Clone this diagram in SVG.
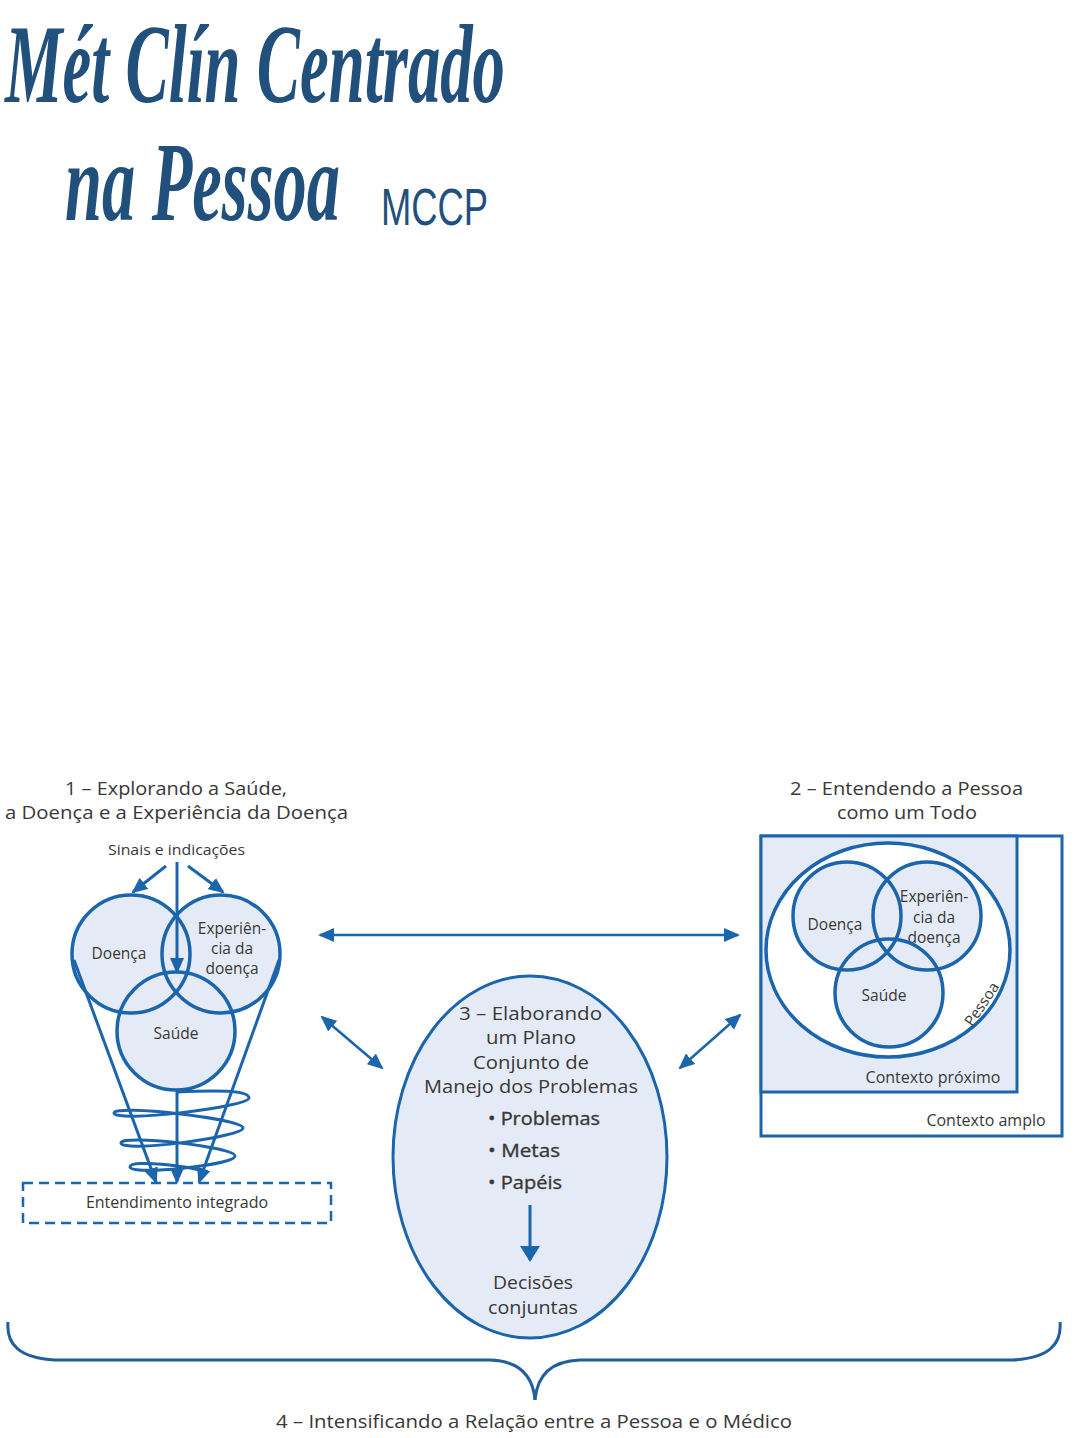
<svg xmlns="http://www.w3.org/2000/svg" width="1079" height="1438" viewBox="0 0 1079 1438">
<style>
.t{font-family:"Open Sans","Noto Sans","Liberation Sans",sans-serif;fill:#383838}
.h{font-size:17.5px}
.s{font-size:15.5px}
.c{font-size:17.5px}
.b{stroke:#383838;stroke-width:0.35}
.st{fill:none;stroke:#1b65ac;stroke-width:3.5}
.fl{fill:#e5ebf6;stroke:none}
.ln{fill:none;stroke:#1b65ac;stroke-width:3}
.dl{fill:none;stroke:#1b65ac;stroke-width:2.6}
.title{font-family:"Liberation Serif","DejaVu Serif",serif;font-weight:bold;font-style:italic;fill:#22507c}
</style>
<defs>
<marker id="ah" viewBox="0 0 16 14" refX="14" refY="7" markerWidth="16" markerHeight="14" markerUnits="userSpaceOnUse" orient="auto-start-reverse">
<path d="M0,0 L16,7 L0,14 z" fill="#1b65ac"/>
</marker>
<marker id="ah2" viewBox="0 0 16 20" refX="14" refY="10" markerWidth="16" markerHeight="20" markerUnits="userSpaceOnUse" orient="auto">
<path d="M0,0 L16,10 L0,20 z" fill="#1b65ac"/>
</marker>
</defs>
<rect width="1079" height="1438" fill="#ffffff"/>

<g id="title">
<text class="title" transform="translate(5,102) scale(1,1.7)" x="0" y="0" font-size="66" textLength="500" lengthAdjust="spacingAndGlyphs">Mét Clín Centrado</text>
<text class="title" transform="translate(65,220) scale(1,1.7)" x="0" y="0" font-size="66" textLength="275" lengthAdjust="spacingAndGlyphs">na Pessoa</text>
<text x="381" y="225" font-family="Liberation Sans,Arial,sans-serif" font-size="52" fill="#22507c" textLength="107" lengthAdjust="spacingAndGlyphs">MCCP</text>
</g>

<!-- Component 1 -->
<g id="comp1">
<text class="t h" x="65" y="795" textLength="222" lengthAdjust="spacingAndGlyphs">1 – Explorando a Saúde,</text>
<text class="t h" x="5" y="819" textLength="343" lengthAdjust="spacingAndGlyphs">a Doença e a Experiência da Doença</text>
<text class="t" x="108" y="855" font-size="15" textLength="137" lengthAdjust="spacingAndGlyphs">Sinais e indicações</text>
<g id="c1-fills">
<circle class="fl" cx="131" cy="954" r="59"/>
<circle class="fl" cx="221" cy="954" r="59"/>
<circle class="fl" cx="176" cy="1031" r="59"/>
</g>
<g id="c1-doenca">
<circle class="st" cx="131" cy="954" r="59"/>
<text class="t s" x="119" y="959" text-anchor="middle">Doença</text>
</g>
<g id="c1-experiencia">
<circle class="st" cx="221" cy="954" r="59"/>
<text class="t s" x="232" y="934" text-anchor="middle">Experiên-</text>
<text class="t s" x="232" y="954" text-anchor="middle">cia da</text>
<text class="t s" x="232" y="974" text-anchor="middle">doença</text>
</g>
<g id="c1-saude">
<circle class="st" cx="176" cy="1031" r="59"/>
<text class="t s" x="176" y="1039" text-anchor="middle">Saúde</text>
</g>
<g id="c1-spiral">
<path class="ln" stroke-width="2.6" d="M177,1092 C215,1090 249,1090 249,1098 C249,1107 114,1123 114,1113 C114,1104 243,1119 243,1128 C243,1137 121,1153 121,1143 C121,1134 235,1147 235,1156 C235,1165 130,1176 130,1167 C130,1159 190,1166 205,1172"/>
</g>
<g id="c1-integrado">
<rect x="23" y="1183" width="308" height="40" fill="none" stroke="#1b65ac" stroke-width="2.5" stroke-dasharray="10 6"/>
<text class="t" font-size="16" x="177" y="1208" text-anchor="middle">Entendimento integrado</text>
</g>
</g>

<!-- Component 2 -->
<g id="comp2">
<text class="t h" x="790" y="795" textLength="233" lengthAdjust="spacingAndGlyphs">2 – Entendendo a Pessoa</text>
<text class="t h" x="837" y="819" textLength="140" lengthAdjust="spacingAndGlyphs">como um Todo</text>
<g id="c2-amplo">
<rect x="761" y="836" width="301" height="300" fill="#ffffff" stroke="#1b65ac" stroke-width="3"/>
<text class="t" font-size="16" x="986" y="1126" text-anchor="middle">Contexto amplo</text>
</g>
<g id="c2-proximo">
<rect x="761" y="836" width="256" height="256" fill="#e5ebf6" stroke="#1b65ac" stroke-width="3"/>
<text class="t" font-size="16" x="933" y="1083" text-anchor="middle">Contexto próximo</text>
</g>
<g id="c2-pessoa">
<ellipse cx="888" cy="950" rx="122" ry="107" fill="#ffffff" stroke="#1b65ac" stroke-width="3.5"/>
<text class="t" font-size="15" x="0" y="0" text-anchor="middle" transform="translate(986,1007) rotate(-56)">Pessoa</text>
</g>
<g id="c2-fills">
<circle class="fl" cx="847" cy="916" r="54"/>
<circle class="fl" cx="927" cy="916" r="54"/>
<circle class="fl" cx="889" cy="993" r="54"/>
</g>
<g id="c2-doenca">
<circle class="st" cx="847" cy="916" r="54"/>
<text class="t s" x="835" y="930" text-anchor="middle">Doença</text>
</g>
<g id="c2-experiencia">
<circle class="st" cx="927" cy="916" r="54"/>
<text class="t s" x="934" y="902" text-anchor="middle">Experiên-</text>
<text class="t s" x="934" y="923" text-anchor="middle">cia da</text>
<text class="t s" x="934" y="943" text-anchor="middle">doença</text>
</g>
<g id="c2-saude">
<circle class="st" cx="889" cy="993" r="54"/>
<text class="t s" x="884" y="1001" text-anchor="middle">Saúde</text>
</g>
</g>

<!-- Component 3 -->
<g id="comp3">
<ellipse cx="530" cy="1157" rx="137" ry="181" fill="#e5ebf6" stroke="#1b65ac" stroke-width="3"/>
<text class="t c" x="459" y="1020" textLength="143" lengthAdjust="spacingAndGlyphs">3 – Elaborando</text>
<text class="t c" x="486" y="1044" textLength="90" lengthAdjust="spacingAndGlyphs">um Plano</text>
<text class="t c" x="473" y="1069" textLength="116" lengthAdjust="spacingAndGlyphs">Conjunto de</text>
<text class="t c" x="424" y="1093" textLength="214" lengthAdjust="spacingAndGlyphs">Manejo dos Problemas</text>
<text class="t c b" x="488" y="1125" textLength="112" lengthAdjust="spacingAndGlyphs">• Problemas</text>
<text class="t c b" x="488" y="1157" textLength="72" lengthAdjust="spacingAndGlyphs">• Metas</text>
<text class="t c b" x="488" y="1189" textLength="74" lengthAdjust="spacingAndGlyphs">• Papéis</text>
<text class="t c" x="493" y="1289" textLength="80" lengthAdjust="spacingAndGlyphs">Decisões</text>
<text class="t c" x="488" y="1314" textLength="90" lengthAdjust="spacingAndGlyphs">conjuntas</text>
</g>

<!-- Component 4 -->
<g id="comp4">
<path fill="none" stroke="#215f9c" stroke-width="3" d="M8,1322 C6,1345 20,1358 55,1360 L490,1360 C520,1361 533,1376 535,1400"/>
<path fill="none" stroke="#215f9c" stroke-width="3" d="M1060,1322 C1062,1345 1048,1358 1013,1360 L580,1360 C550,1361 537,1376 535,1400"/>
<text class="t" font-size="18" x="276" y="1428" textLength="516" lengthAdjust="spacingAndGlyphs">4 – Intensificando a Relação entre a Pessoa e o Médico</text>
</g>

<!-- connectors -->
<g id="connectors">
<line class="ln" x1="166" y1="866" x2="133" y2="892" marker-end="url(#ah)"/>
<line class="ln" x1="188" y1="866" x2="223" y2="892" marker-end="url(#ah)"/>
<line class="ln" x1="177" y1="862" x2="177" y2="972" marker-end="url(#ah)"/>
<line class="ln" x1="74" y1="960" x2="156" y2="1182" marker-end="url(#ah)"/>
<line class="ln" x1="279" y1="960" x2="199" y2="1182" marker-end="url(#ah)"/>
<line class="ln" x1="177" y1="1090" x2="177" y2="1182" marker-end="url(#ah)"/>
<line class="dl" x1="320" y1="935" x2="738" y2="935" marker-start="url(#ah)" marker-end="url(#ah)"/>
<line class="dl" x1="322" y1="1017" x2="382" y2="1068" marker-start="url(#ah)" marker-end="url(#ah)"/>
<line class="dl" x1="680" y1="1068" x2="740" y2="1015" marker-start="url(#ah)" marker-end="url(#ah)"/>
<line class="ln" x1="530" y1="1205" x2="530" y2="1260" marker-end="url(#ah2)"/>
</g>
</svg>
